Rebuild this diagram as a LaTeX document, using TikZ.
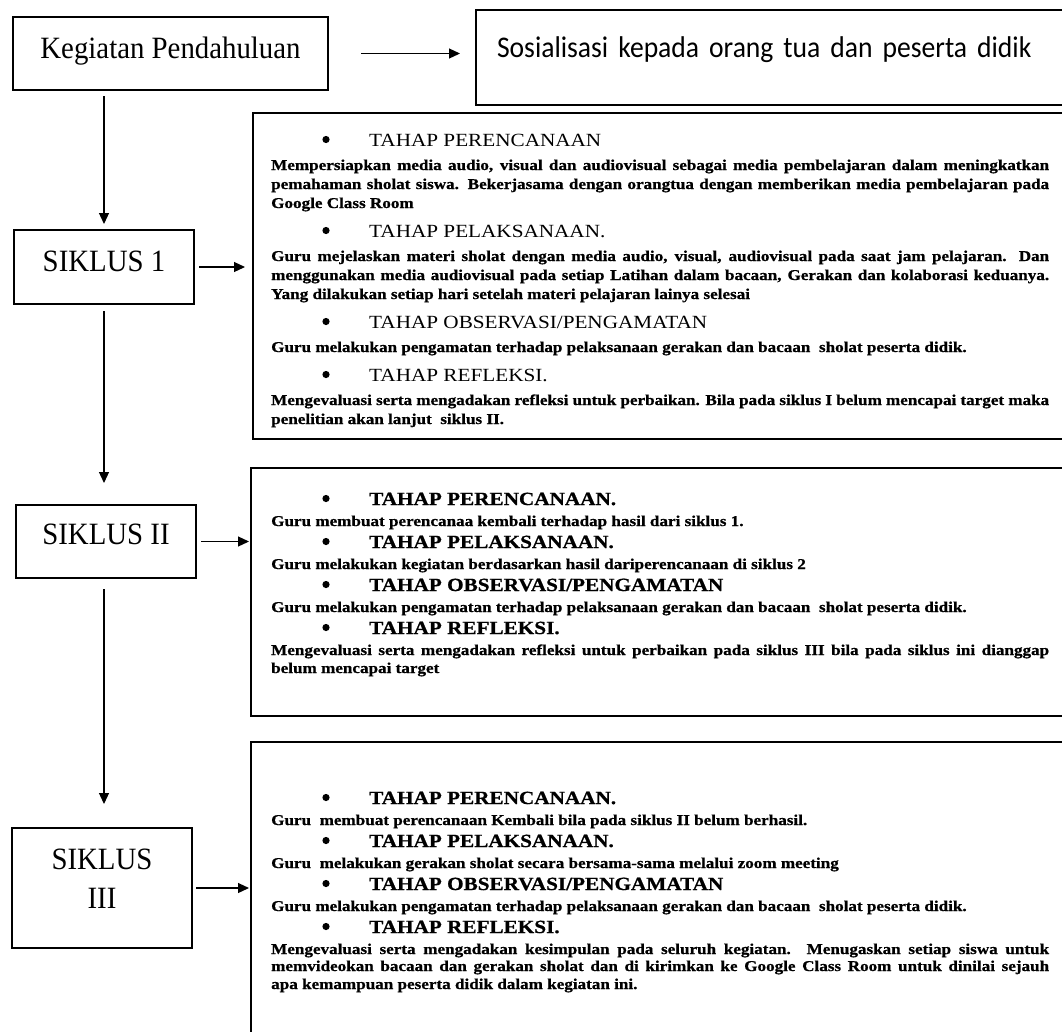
\documentclass[tikz,border=0pt]{standalone}
\usepackage{fontspec}
\setmainfont{Liberation Serif}
\newfontfamily\boxfont{Liberation Serif}[FakeStretch=1.14, BoldFeatures={FakeBold=0.8}]
\newfontfamily\labfont{Liberation Serif}[FakeStretch=0.93]
\newfontfamily\sosfont{Carlito}[FakeStretch=0.92]
\usetikzlibrary{arrows.meta}

\newcommand\jl[1]{\makebox[778pt][s]{#1}}
\newcommand\hd[1]{\hspace*{98pt}{\mdseries\fontsize{18.6}{20}\selectfont#1}}
\newcommand\hdb[1]{\hspace*{98pt}{\fontsize{18.6}{20}\selectfont#1}}

\tikzset{
  frame/.style={draw, line width=2pt, anchor=north west, inner sep=0pt},
  lab/.style={frame, align=center, font=\labfont\fontsize{31}{39}\selectfont},
  txt/.style={anchor=base west, inner sep=0pt, font=\boxfont\bfseries\fontsize{15}{18}\selectfont},
  flow/.style={line width=1.2pt, -{Triangle[length=11pt,width=10pt]}}
}

\begin{document}
\begin{tikzpicture}[x=1pt,y=-1pt]
\useasboundingbox (0,0) rectangle (1062,1031);
\clip (0,0) rectangle (1062,1031);

% left column
\node[lab, minimum width=315pt, minimum height=73pt, text depth=12pt] (keg) at (12,16) {Kegiatan Pendahuluan};
\node[lab, minimum width=180pt, minimum height=74pt, text depth=12pt] (s1) at (13,229) {SIKLUS 1};
\node[lab, minimum width=180pt, minimum height=73pt, text depth=15pt] (s2) at (15,504) {SIKLUS II};
\node[lab, minimum width=180pt, minimum height=120pt, text depth=19pt] (s3) at (11,827) {SIKLUS\\III};

% right column
\node[frame, minimum width=620pt, minimum height=95pt, text width=600pt, align=left, inner xsep=21pt,
  font=\sosfont\fontsize{30}{36}\selectfont, text depth=21pt] (sos) at (475,9) {Sosialisasi kepada orang tua dan peserta didik};
\node[frame, minimum width=830pt, minimum height=326pt] (b1) at (252,112) {};
\node[frame, minimum width=830pt, minimum height=248pt] (b2) at (250,467) {};
\node[frame, minimum width=830pt, minimum height=320pt] (b3) at (250,741) {};

% arrows
\draw[flow, shorten <=32pt, shorten >=15pt] (keg.east) -- (keg.east -| sos.west);
\draw[flow, shorten <=5pt, shorten >=5pt] (s1.north |- keg.south) -- (s1.north);
\draw[flow, shorten <=6pt, shorten >=21pt] (s1.south) -- (s1.south |- s2.north);
\draw[flow, shorten <=10pt, shorten >=23pt] (s1.south |- s2.south) -- (s1.south |- s3.north);
\draw[flow, shorten <=4pt, shorten >=7pt] (s1.east) -- (s1.east -| b1.west);
\draw[flow, shorten <=4pt, shorten >=1pt] (s2.east) -- (s2.east -| b2.west);
\draw[flow, shorten <=3pt, shorten >=1pt] (s3.east) -- (s3.east -| b3.west);

% bullets
\foreach \y in {139.5,230.5,321.5,374.5,498.5,541.5,584.5,627.5,797.5,840.5,883.5,926.5}
  \fill (326,\y) circle (3.6pt);

% siklus 1
\foreach \y/\t [count=\i] in {
  146/{\hd{TAHAP PERENCANAAN}},
  170/{\jl{Mempersiapkan media audio, visual dan audiovisual sebagai media pembelajaran dalam meningkatkan}},
  189/{\jl{pemahaman sholat siswa. Bekerjasama dengan orangtua dengan memberikan media pembelajaran pada}},
  208/{Google Class Room},
  237/{\hd{TAHAP PELAKSANAAN.}},
  261/{\jl{Guru mejelaskan materi sholat dengan media audio, visual, audiovisual pada saat jam pelajaran. Dan}},
  280/{\jl{menggunakan media audiovisual pada setiap Latihan dalam bacaan, Gerakan dan kolaborasi keduanya.}},
  299/{Yang dilakukan setiap hari setelah materi pelajaran lainya selesai},
  328/{\hd{TAHAP OBSERVASI/PENGAMATAN}},
  352/{Guru melakukan pengamatan terhadap pelaksanaan gerakan dan bacaan~ sholat peserta didik.},
  381/{\hd{TAHAP REFLEKSI.}},
  405/{\jl{Mengevaluasi serta mengadakan refleksi untuk perbaikan. Bila pada siklus I belum mencapai target maka}},
  424/{penelitian akan lanjut~ siklus II.}}
  \node[txt] (p1-\i) at (271,\y) {\t};

% siklus 2
\foreach \y/\t [count=\i] in {
  505/{\hdb{TAHAP PERENCANAAN.}},
  526/{Guru membuat perencanaa kembali terhadap hasil dari siklus 1.},
  548/{\hdb{TAHAP PELAKSANAAN.}},
  569/{Guru melakukan kegiatan berdasarkan hasil dariperencanaan di siklus 2},
  591/{\hdb{TAHAP OBSERVASI/PENGAMATAN}},
  612/{Guru melakukan pengamatan terhadap pelaksanaan gerakan dan bacaan~ sholat peserta didik.},
  634/{\hdb{TAHAP REFLEKSI.}},
  655/{\jl{Mengevaluasi serta mengadakan refleksi untuk perbaikan pada siklus III bila pada siklus ini dianggap}},
  673/{belum mencapai target}}
  \node[txt] (p2-\i) at (271,\y) {\t};

% siklus 3
\foreach \y/\t [count=\i] in {
  804/{\hdb{TAHAP PERENCANAAN.}},
  825/{Guru~ membuat perencanaan Kembali bila pada siklus II belum berhasil.},
  847/{\hdb{TAHAP PELAKSANAAN.}},
  868/{Guru~ melakukan gerakan sholat secara bersama-sama melalui zoom meeting},
  890/{\hdb{TAHAP OBSERVASI/PENGAMATAN}},
  911/{Guru melakukan pengamatan terhadap pelaksanaan gerakan dan bacaan~ sholat peserta didik.},
  933/{\hdb{TAHAP REFLEKSI.}},
  954/{\jl{Mengevaluasi serta mengadakan kesimpulan pada seluruh kegiatan. Menugaskan setiap siswa untuk}},
  971/{\jl{memvideokan bacaan dan gerakan sholat dan di kirimkan ke Google Class Room untuk dinilai sejauh}},
  989/{apa kemampuan peserta didik dalam kegiatan ini.}}
  \node[txt] (p3-\i) at (271,\y) {\t};
\end{tikzpicture}
\end{document}
